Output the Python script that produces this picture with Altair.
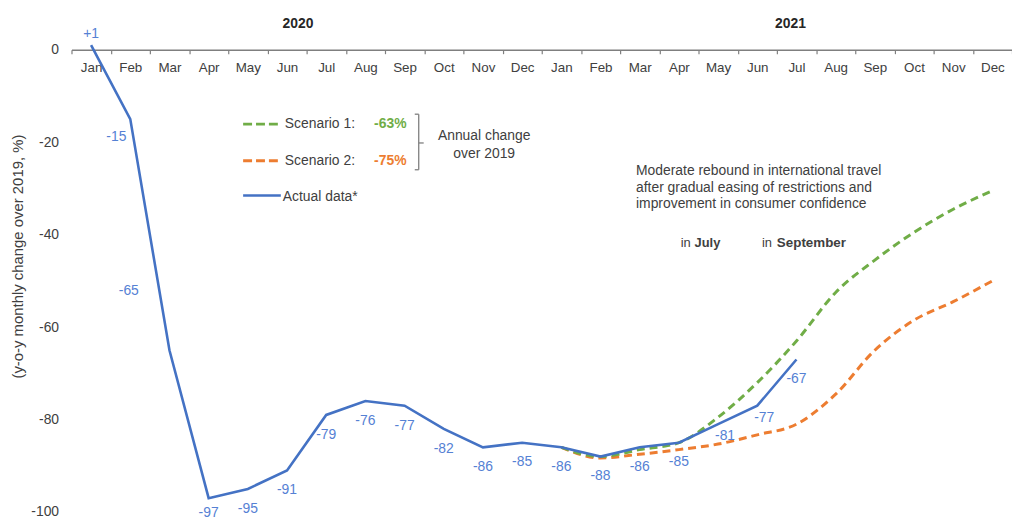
import altair as alt
import pandas as pd

# ---------------- data ----------------
months = ["Jan", "Feb", "Mar", "Apr", "May", "Jun", "Jul", "Aug", "Sep", "Oct", "Nov", "Dec"]
years = ["2020", "2021"]
keys = [f"{m} {y}" for y in years for m in months]

actual = [1, -15, -65, -97, -95, -91, -79, -76, -77, -82, -86, -85,
          -86, -88, -86, -85, -81, -77, -67]
label_pos = ["above", "lowleft", "farleft", "bottom", "below", "below", "below", "below",
             "below", "below", "below", "below", "below", "below", "below", "below",
             "right", "right", "below"]

scen_keys = keys[12:]
scenario1 = [-86, -88, -86.5, -85, -79.5, -72, -63, -52.5, -45.5, -39.5, -34.5, -30.5]
scenario2 = [-86, -88.3, -87.5, -86.5, -85.3, -83.3, -81, -74.5, -65, -58.5, -54.5, -50]

y_ticks = [0, -20, -40, -60, -80, -100]

GREEN = "#70ad47"
ORANGE = "#ed7d31"
BLUE = "#4472c4"
LBLUE = "#5581d4"
TEXT = "#404040"
FONT = "Liberation Sans"
FS = 14

W, H = 948, 466

df_act = pd.DataFrame({
    "key": keys[:len(actual)],
    "value": actual,
    "label": [("+" if v > 0 else "") + str(v) for v in actual],
    "pos": label_pos,
})
df_s1 = pd.DataFrame({"key": scen_keys, "value": scenario1})
df_s2 = pd.DataFrame({"key": scen_keys, "value": scenario2})

X = alt.X(
    "key:O",
    sort=keys,
    bandPosition=0.5,
    scale=alt.Scale(type="band", domain=keys, paddingInner=0, paddingOuter=0),
    axis=alt.Axis(
        orient="bottom", offset=-H, title="", labelAngle=0,
        labelExpr="split(datum.label, ' ')[0]",
        domainColor="#7f7f7f", domainWidth=1.5,
        tickColor="#7f7f7f", tickSize=4, tickWidth=1.2, tickBand="extent",
        labelPadding=7, labelFontSize=13.5, labelColor=TEXT, labelFont=FONT,
        grid=False,
    ),
)
Y = alt.Y(
    "value:Q",
    scale=alt.Scale(domain=[-100, 0], nice=False, zero=False),
    axis=alt.Axis(
        values=y_ticks, domain=False, ticks=False, grid=False,
        labelExpr="'' + datum.value",
        labelPadding=13, labelFontSize=FS, labelColor=TEXT, labelFont=FONT,
        title="(y-o-y monthly change over 2019, %)",
        titleX=-54, titleY=208, titleAngle=270, titleAlign="center",
        titleBaseline="middle", titleFontWeight="normal", titleFontSize=15,
        titleColor=TEXT, titleFont=FONT,
    ),
)

s1 = alt.Chart(df_s1).mark_line(color=GREEN, strokeWidth=3, strokeDash=[8, 5],
                                interpolate="monotone").encode(x=X, y=Y)
s2 = alt.Chart(df_s2).mark_line(color=ORANGE, strokeWidth=3, strokeDash=[8, 5],
                                interpolate="monotone").encode(x=X, y=Y)
act = alt.Chart(df_act).mark_line(color=BLUE, strokeWidth=2.6).encode(x=X, y=Y)

offsets = {"above": (0, -11), "lowleft": (-14, 18), "farleft": (-41, -60),
           "below": (0, 20), "bottom": (0, 15), "right": (7, 12)}
label_layers = []
for name, (dx, dy) in offsets.items():
    label_layers.append(
        alt.Chart(df_act).transform_filter(alt.datum.pos == name)
        .mark_text(color=LBLUE, fontSize=FS, font=FONT, dx=dx, dy=dy,
                   align="center", baseline="middle")
        .encode(x=X, y=Y, text="label:N")
    )

# year labels anchored to months
yr1 = alt.Chart(pd.DataFrame({"key": ["Jun 2020"], "t": ["2020"]})).mark_text(
    fontWeight="bold", fontSize=FS, font=FONT, color="#262626", dx=11,
    baseline="middle").encode(x=X, y=alt.value(-26), text="t:N")
yr2 = alt.Chart(pd.DataFrame({"key": ["Jul 2021"], "t": ["2021"]})).mark_text(
    fontWeight="bold", fontSize=FS, font=FONT, color="#262626", dx=-6,
    baseline="middle").encode(x=X, y=alt.value(-26), text="t:N")

one = pd.DataFrame({"a": [0]})


def rule(x1, x2, y1, y2, color, width=3, dash=None):
    kw = dict(color=color, strokeWidth=width)
    if dash:
        kw["strokeDash"] = dash
    return alt.Chart(one).mark_rule(**kw).encode(
        x=alt.value(x1), x2=alt.value(x2), y=alt.value(y1), y2=alt.value(y2))


def text(s, x, y, color=TEXT, weight="normal", align="left", baseline="middle", size=FS, **kw):
    return alt.Chart(one).mark_text(color=color, fontWeight=weight, align=align,
                                    baseline=baseline, fontSize=size, font=FONT, **kw).encode(
        x=alt.value(x), y=alt.value(y), text=alt.value(s))


legend = [
    rule(173, 211, 75, 75, GREEN, 3, [9, 4]),
    text("Scenario 1:", 215, 75),
    text("-63%", 305, 75, color=GREEN, weight="bold"),
    rule(173, 211, 112, 112, ORANGE, 3, [9, 4]),
    text("Scenario 2:", 215, 112),
    text("-75%", 305, 112, color=ORANGE, weight="bold"),
    rule(173, 211, 147, 147, BLUE, 2.6),
    text("Actual data*", 213, 148),
    # bracket
    rule(346, 350, 65, 65, "#7f7f7f", 1.3),
    rule(350, 350, 65, 121, "#7f7f7f", 1.3),
    rule(346, 350, 121, 121, "#7f7f7f", 1.3),
    rule(350, 355, 94, 94, "#7f7f7f", 1.3),
    text("Annual change", 416, 87, align="center"),
    text("over 2019", 416, 105, align="center"),
]

notes = [
    alt.Chart(one).mark_text(color=TEXT, align="left", baseline="top", fontSize=FS,
                             font=FONT, lineHeight=17).encode(
        x=alt.value(569), y=alt.value(115),
        text=alt.value(["Moderate rebound in international travel",
                        "after gradual easing of restrictions and",
                        "improvement in consumer confidence"])),
    text("in", 614, 195, size=13),
    text("July", 628, 195, weight="bold", size=13),
    text("in", 696, 195, size=13),
    text("September", 711, 195, weight="bold", size=13.5),
]

chart = alt.layer(
    s2, s1, act, *label_layers, yr1, yr2, *legend, *notes
).properties(
    width=W, height=H,
    autosize=alt.AutoSizeParams(type="none"),
    padding={"left": 64, "top": 40, "right": 0, "bottom": 8},
    background="white",
).configure_view(strokeWidth=0)

chart.save("out.html", embed_options={"renderer": "svg", "actions": False})
